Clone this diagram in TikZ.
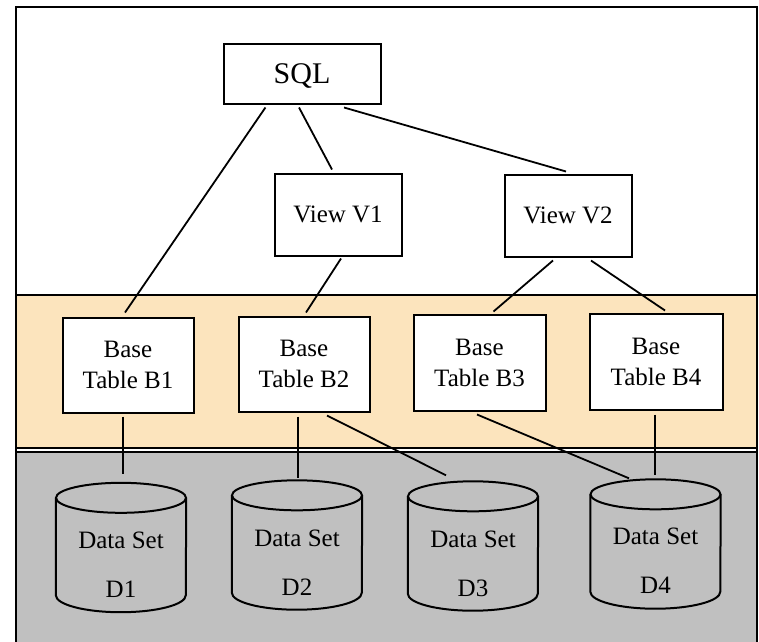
\documentclass[tikz,border=0pt]{standalone}
\usepackage{fontspec}
\setmainfont{Liberation Serif}
\usetikzlibrary{calc}
\definecolor{bandorange}{HTML}{FCE4BD}
\definecolor{bandgray}{HTML}{C0C0C0}
\tikzset{
  box/.style={draw=black, line width=2pt, fill=white, inner sep=0pt, align=center,
    font=\fontsize{25}{31}\selectfont},
  conn/.style={draw=black, line width=1.8pt},
  cylframe/.style={inner sep=0pt, minimum width=130pt, minimum height=129pt},
  cyltext/.style={align=center, inner sep=0pt, font=\fontsize{25}{49}\selectfont},
  cylline/.style={draw=black, line width=2pt},
  band/.style={draw=black, line width=2pt},
}
\newcommand\drawcylinder[1]{%
  \draw[cylline] ([yshift=-15pt]#1.north) ellipse [x radius=65pt, y radius=15pt];
  \draw[cylline] ([yshift=-15pt]#1.north west) -- ([yshift=17pt]#1.south west)
     arc[start angle=180, end angle=360, x radius=65pt, y radius=17pt]
     -- ([yshift=-15pt]#1.north east);
}
\begin{document}
\begin{tikzpicture}[x=1pt, y=-1pt]
  \useasboundingbox (0,0) rectangle (759,641);
  \clip (0,0) rectangle (759,641);
  \fill[white] (0,0) rectangle (759,641);
  % bands
  \filldraw[band, fill=bandorange] (16,295) rectangle (757,448);
  \filldraw[band, fill=bandgray] (16,452) rectangle (757,670);
  \draw[band] (16,7) rectangle (757,670);

  % boxes
  \node[box, minimum width=157pt, minimum height=60pt, text depth=0pt,
        font=\fontsize{30}{36}\selectfont] (sql) at (302,73.5) {SQL};
  \node[box, minimum width=127pt, minimum height=82pt] (v1) at (338,214.5) {View V1};
  \node[box, minimum width=127pt, minimum height=82pt] (v2) at (568,215.5) {View V2};
  \node[box, minimum width=131pt, minimum height=95pt] (b1) at (128,365) {Base\\Table B1};
  \node[box, minimum width=131pt, minimum height=95pt] (b2) at (304,364) {Base\\Table B2};
  \node[box, minimum width=132pt, minimum height=96pt] (b3) at (479.5,362.5) {Base\\Table B3};
  \node[box, minimum width=133pt, minimum height=96pt] (b4) at (656,361.5) {Base\\Table B4};

  % cylinders
  \node[cylframe] (d1) at (121,547.5) {};
  \node[cylframe] (d2) at (297,545) {};
  \node[cylframe] (d3) at (473,546) {};
  \node[cylframe] (d4) at (655.5,544) {};
  \drawcylinder{d1}
  \drawcylinder{d2}
  \drawcylinder{d3}
  \drawcylinder{d4}
  \node[cyltext] (t1) at (121,564.5) {Data Set\\D1};
  \node[cyltext] (t2) at (297,563) {Data Set\\D2};
  \node[cyltext] (t3) at (473,564) {Data Set\\D3};
  \node[cyltext] (t4) at (655.5,561) {Data Set\\D4};

  % connectors
  \draw[conn] ($(sql.south west)!0.27!(sql.south east)+(0,3)$) -- ($(b1.north)+(-3,-4)$);
  \draw[conn] ($(sql.south)+(-3,3)$) -- ($(v1.north)+(-6,-3)$);
  \draw[conn] ($(sql.south)+(42,3)$) -- ($(v2.north)+(-2,-2)$);
  \draw[conn] ($(v1.south)+(3,2)$) -- ($(b2.north)+(2,-3)$);
  \draw[conn] ($(v2.south)+(-15,3)$) -- ($(b3.north)+(14,-2)$);
  \draw[conn] ($(v2.south)+(23,3)$) -- ($(b4.north)+(9,-2)$);
  \draw[conn] ($(b1.south)+(-5,3)$) -- ($(d1.north)+(2,-9)$);
  \draw[conn] ($(b2.south)+(-6,4)$) -- ($(d2.north)+(1,-2)$);
  \draw[conn] ($(b2.south)+(23,3)$) -- ($(d3.north)+(-27,-6)$);
  \draw[conn] ($(b3.south)+(-2.5,3)$) -- ($(d4.north)+(-26.5,-1)$);
  \draw[conn] ($(b4.south)+(-1,4)$) -- ($(d4.north)+(-0.5,-4)$);
\end{tikzpicture}
\end{document}
